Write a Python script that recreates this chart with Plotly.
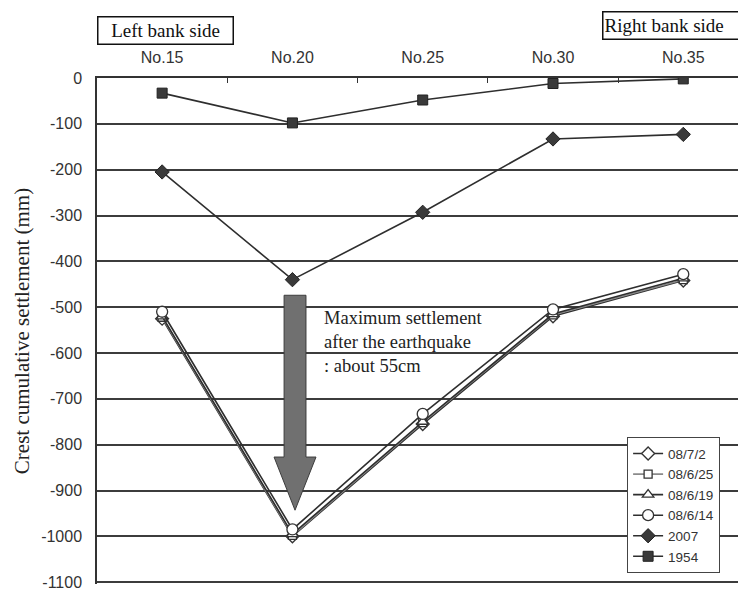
import plotly.graph_objects as go

# Crest settlement survey by station
stations = ["No.15", "No.20", "No.25", "No.30", "No.35"]

s1954 = [-33, -98, -48, -12, -2]
s2007 = [-205, -440, -293, -133, -123]
s080614 = [-510, -985, -733, -505, -428]
s080619 = [-520, -995, -750, -515, -437]
s080625 = [-522, -998, -752, -517, -440]
s080702 = [-525, -1000, -755, -520, -442]

y_ticks = [0, -100, -200, -300, -400, -500, -600, -700, -800, -900, -1000, -1100]

x_idx = list(range(len(stations)))

DARK = "#2e2e2e"
SANS = "Liberation Sans, Arial, sans-serif"
SERIF = "Liberation Serif, Times New Roman, serif"

fig = go.Figure()

# (name, values, symbol, size, filled, line color, legend rank)
series = [
    ("1954", s1954, "square", 10, True, DARK, 6),
    ("2007", s2007, "diamond", 11, True, DARK, 5),
    ("08/7/2", s080702, "diamond-open", 10, False, DARK, 1),
    ("08/6/25", s080625, "square-open", 8, False, "#8a8a8a", 2),
    ("08/6/19", s080619, "triangle-up-open", 10, False, DARK, 3),
    ("08/6/14", s080614, "circle-open", 11, False, DARK, 4),
]

for name, vals, sym, size, filled, lc, rank in series:
    if filled:
        marker = dict(symbol=sym, size=size, color="#3a3a3a",
                      line=dict(color="#222", width=1))
    else:
        marker = dict(symbol=sym.replace("-open", ""), size=size, color="white",
                      line=dict(color="#333", width=1.3))
    fig.add_trace(go.Scatter(
        x=x_idx, y=vals, name=name, mode="lines+markers",
        line=dict(color=lc, width=1.6),
        marker=marker, legendrank=rank,
    ))

# Block arrow pointing down to the deepest point at No.20
cx = 1.02
shaft = 0.084
head = 0.161
y_top, y_head, y_tip = -474, -827, -943
arrow_path = (
    f"M {cx - shaft},{y_top} L {cx + shaft},{y_top} L {cx + shaft},{y_head} "
    f"L {cx + head},{y_head} L {cx},{y_tip} L {cx - head},{y_head} "
    f"L {cx - shaft},{y_head} Z"
)
fig.add_shape(type="path", path=arrow_path, xref="x", yref="y",
              fillcolor="#707070", line=dict(color="#3c3c3c", width=1))

fig.add_annotation(
    x=1.23, y=-497, xref="x", yref="y", xanchor="left", yanchor="top",
    text="Maximum settlement<br>after the earthquake<br>: about 55cm",
    showarrow=False, align="left",
    font=dict(family=SERIF, size=18.5, color="#222"),
)

# Bank side captions above the chart
fig.add_annotation(
    x=0.0, y=1.093, xref="paper", yref="paper", xanchor="left", yanchor="middle",
    text="Left bank side", showarrow=False, width=132, height=24,
    bordercolor="#111", borderwidth=1.5, borderpad=1, bgcolor="white",
    font=dict(family=SERIF, size=19, color="#111"),
)
fig.add_annotation(
    x=0.788, y=1.103, xref="paper", yref="paper", xanchor="left", yanchor="middle",
    text="Right bank side", showarrow=False, width=140, height=24,
    bordercolor="#111", borderwidth=1.5, borderpad=1, bgcolor="white",
    font=dict(family=SERIF, size=19, color="#111"), align="left",
)

fig.update_layout(
    width=738, height=592,
    margin=dict(l=97, r=0, t=78, b=8),
    paper_bgcolor="white", plot_bgcolor="white",
    showlegend=True,
    legend=dict(
        x=0.827, y=0.29, xanchor="left", yanchor="top",
        bordercolor="#444", borderwidth=1, bgcolor="white",
        font=dict(family=SANS, size=13.5, color="#333"),
        itemwidth=30, tracegroupgap=0,
    ),
    xaxis=dict(
        side="top", range=[-0.5, 4.42],
        tickmode="array", tickvals=x_idx, ticktext=stations,
        ticks="", showgrid=False, zeroline=False,
        showline=True, linecolor="#333", linewidth=1.5,
        tickfont=dict(family=SANS, size=16, color="#333"),
        ticklabelstandoff=7,
        minor=dict(tickvals=[0.5, 1.5, 2.5, 3.5], ticks="inside",
                   ticklen=5, tickcolor="#333", tickwidth=1.3, showgrid=False),
    ),
    yaxis=dict(
        range=[-1104, 0],
        tickmode="array", tickvals=y_ticks, ticktext=[str(v) for v in y_ticks],
        ticks="", showgrid=True, gridcolor="#3c3c3c", gridwidth=1.5,
        zeroline=False, showline=True, linecolor="#333", linewidth=1.5,
        tickfont=dict(family=SANS, size=16, color="#333"),
        ticklabelstandoff=10,
        title=dict(text="Crest cumulative settlement (mm)",
                   font=dict(family=SERIF, size=21, color="#222"), standoff=6),
    ),
)

fig.write_html("out.html")
